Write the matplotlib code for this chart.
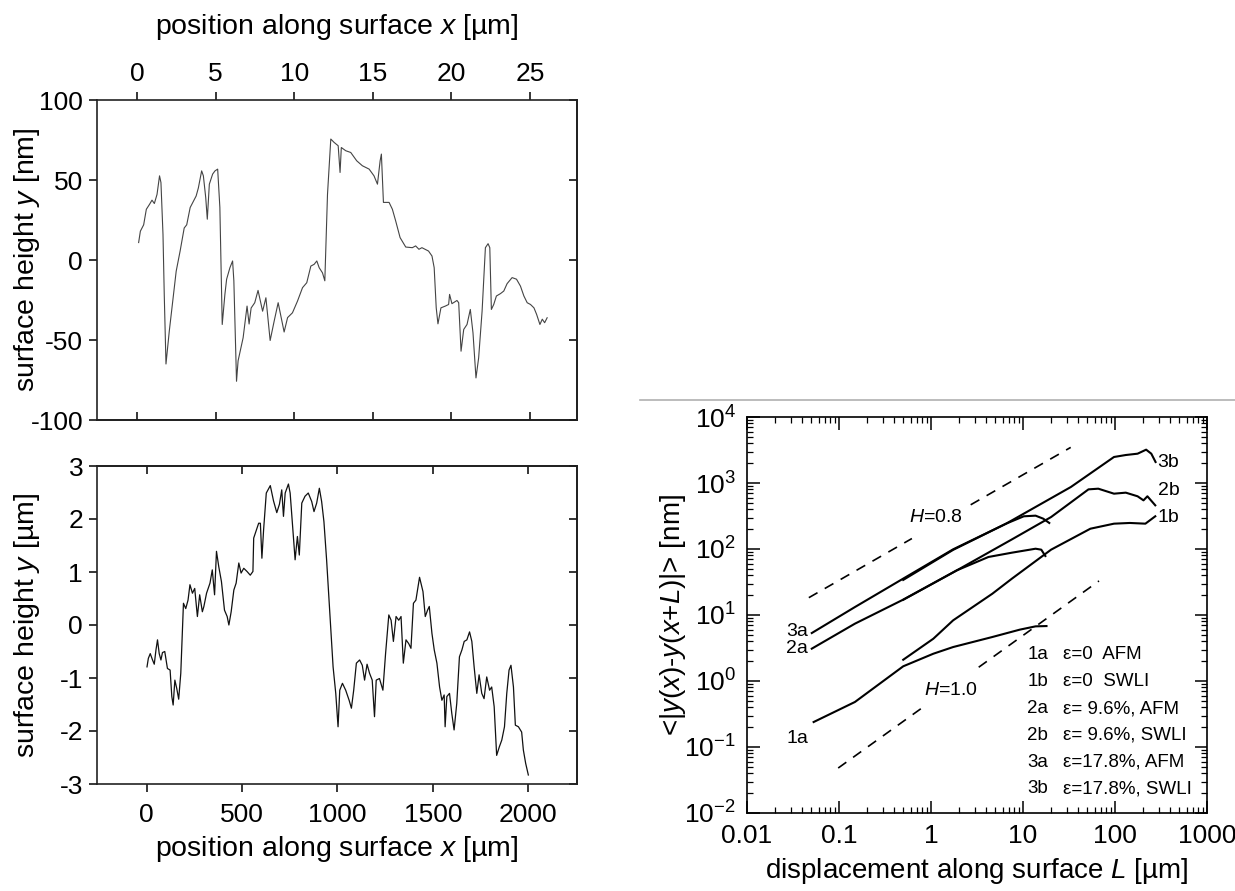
import numpy as np
import matplotlib.pyplot as plt
from matplotlib.ticker import LogLocator, FuncFormatter, NullFormatter
from matplotlib.lines import Line2D

plt.rcParams['font.family'] = ['Liberation Sans', 'DejaVu Sans']
plt.rcParams['mathtext.fontset'] = 'custom'
plt.rcParams['mathtext.rm'] = 'Liberation Sans'
plt.rcParams['mathtext.it'] = 'Liberation Sans:italic'
plt.rcParams['axes.unicode_minus'] = False

# AFM profile (top left), x in um, y in nm
x_afm = [0.10, 0.21, 0.42, 0.59, 0.80, 0.95, 1.10, 1.27, 1.43, 1.52,
         1.65, 1.73, 1.84, 1.94, 2.05, 2.22, 2.49, 2.74, 3.00, 3.16,
         3.38, 3.76, 3.90, 4.11, 4.22, 4.37, 4.47, 4.60, 4.81, 4.96,
         5.13, 5.27, 5.42, 5.59, 5.70, 5.91, 6.08, 6.16, 6.33, 6.43,
         6.75, 7.00, 7.13, 7.26, 7.49, 7.70, 7.99, 8.20, 8.47, 8.73,
         8.98, 9.15, 9.36, 9.58, 9.89, 10.21, 10.53, 10.80, 11.06, 11.27,
         11.44, 11.59, 11.80, 11.95, 12.12, 12.33, 12.54, 12.80, 12.92, 13.00,
         13.28, 13.60, 13.98, 14.34, 14.77, 15.08, 15.30, 15.47, 15.55, 15.68,
         16.04, 16.25, 16.46, 16.74, 17.10, 17.52, 17.73, 17.94, 18.13, 18.55,
         18.77, 18.91, 19.04, 19.15, 19.34, 19.62, 19.83, 19.89, 20.04, 20.36,
         20.47, 20.62, 20.79, 21.00, 21.21, 21.38, 21.57, 21.74, 21.96, 22.17,
         22.34, 22.45, 22.55, 22.70, 22.87, 23.13, 23.34, 23.55, 23.87, 24.15,
         24.40, 24.62, 24.83, 25.04, 25.26, 25.43, 25.64, 25.79, 25.94, 26.10]
y_afm = [10.9, 18.0, 22.0, 31.7, 34.9, 37.4, 35.3, 41.0, 52.6, 48.4,
         16.0, -21.5, -65.0, -55.0, -44.5, -30.0, -7.0, 5.6, 20.0, 22.0,
         32.8, 40.0, 45.0, 55.7, 52.6, 39.0, 25.5, 47.4, 53.7, 55.7,
         56.8, 32.8, -40.3, -21.5, -12.0, -4.8, -0.6, -13.0, -75.8, -63.0,
         -48.6, -28.8, -40.0, -30.0, -26.7, -19.0, -32.0, -23.6, -50.3, -38.0,
         -26.7, -35.0, -45.0, -36.0, -33.0, -25.7, -17.3, -14.2, -3.8, -2.7,
         -0.6, -4.8, -8.0, -13.0, 41.0, 75.6, 73.5, 71.4, 54.7, 70.3,
         68.3, 67.2, 62.0, 58.9, 56.8, 52.6, 47.4, 62.0, 66.2, 36.0,
         36.0, 31.7, 24.4, 14.0, 8.1, 7.7, 8.8, 6.7, 7.7, 5.6,
         2.5, -4.8, -29.9, -39.9, -29.9, -28.8, -27.8, -21.5, -27.3, -25.3,
         -26.7, -57.0, -43.4, -40.3, -30.9, -45.5, -73.7, -61.2, -31.9, 7.7,
         10.2, 7.7, -30.9, -27.8, -22.5, -21.0, -19.4, -14.8, -11.0, -12.0,
         -16.3, -22.5, -26.7, -27.8, -29.9, -34.0, -40.3, -37.0, -39.2, -36.1]

# SWLI profile (bottom left), x in um, y in um
x_swli = [2, 9, 19, 31, 40, 49, 57, 66, 75, 83,
          95, 109, 123, 132, 139, 148, 158, 168, 179, 193,
          205, 217, 227, 240, 252, 266, 278, 292, 300, 314,
          332, 344, 356, 366, 378, 392, 408, 422, 431, 443,
          457, 469, 483, 495, 509, 526, 543, 557, 561, 587,
          596, 604, 613, 627, 648, 665, 682, 696, 708, 717,
          726, 743, 752, 766, 778, 790, 800, 813, 830, 847,
          865, 877, 891, 905, 917, 929, 943, 960, 977, 991,
          1003, 1012, 1026, 1043, 1061, 1073, 1085, 1099, 1116, 1130,
          1142, 1155, 1168, 1182, 1194, 1203, 1220, 1238, 1252, 1269,
          1281, 1293, 1307, 1321, 1333, 1345, 1359, 1373, 1385, 1398,
          1411, 1430, 1448, 1460, 1472, 1481, 1495, 1507, 1521, 1535,
          1547, 1559, 1564, 1573, 1587, 1599, 1611, 1625, 1639, 1652,
          1664, 1678, 1692, 1704, 1716, 1730, 1742, 1756, 1768, 1782,
          1797, 1808, 1821, 1834, 1848, 1861, 1875, 1887, 1899, 1909,
          1922, 1932, 1948, 1965, 1974, 1986, 2000]
y_swli = [-0.79, -0.63, -0.54, -0.66, -0.74, -0.47, -0.28, -0.54, -0.66, -0.52,
          -0.50, -0.82, -0.85, -1.35, -1.51, -1.04, -1.20, -1.40, -0.91, 0.41,
          0.31, 0.47, 0.76, 0.60, 0.69, 0.16, 0.57, 0.25, 0.35, 0.60,
          0.79, 1.04, 0.57, 1.39, 1.10, 0.82, 0.28, 0.16, 0.00, 0.25,
          0.66, 0.79, 1.17, 0.98, 1.07, 1.01, 0.94, 1.01, 1.64, 1.92,
          1.92, 1.26, 1.80, 2.49, 2.63, 2.34, 2.12, 2.28, 2.55, 2.05,
          2.49, 2.66, 2.49, 1.80, 1.23, 1.67, 1.32, 2.30, 2.43, 2.49,
          2.33, 2.14, 2.30, 2.58, 2.33, 1.95, 1.23, 0.22, -0.79, -1.29,
          -1.92, -1.23, -1.10, -1.23, -1.42, -1.57, -1.23, -0.72, -0.66, -0.76,
          -1.04, -0.74, -0.91, -1.04, -1.73, -1.04, -1.01, -1.23, -0.54, 0.19,
          0.09, -0.31, 0.16, 0.09, 0.16, -0.72, -0.28, -0.35, -0.44, 0.41,
          0.47, 0.90, 0.63, 0.16, 0.28, 0.35, -0.16, -0.47, -0.72, -1.17,
          -1.42, -1.32, -1.92, -1.35, -1.29, -1.67, -1.98, -1.48, -0.60, -0.47,
          -0.31, -0.28, -0.13, -0.31, -0.79, -1.29, -0.94, -1.29, -1.39, -0.98,
          -1.23, -1.17, -1.54, -2.46, -2.30, -2.17, -1.92, -1.29, -0.85, -0.76,
          -1.17, -1.89, -1.92, -2.02, -2.36, -2.61, -2.83]

# height-difference correlation curves (right), L in um, value in nm
L_1a = [0.053, 0.149, 0.499, 1.06, 1.74, 4.64, 9.23, 13.7, 18.0]
v_1a = [0.239, 0.481, 1.67, 2.59, 3.27, 4.64, 6.0, 6.73, 6.8]
L_1b = [0.499, 1.06, 1.74, 4.64, 7.59, 20.2, 54.0, 97.5, 145, 214, 274]
v_1b = [2.1, 4.37, 8.3, 21.0, 35.6, 97.7, 203, 242, 248, 242, 313]
L_2a = [0.0506, 0.149, 0.499, 1.91, 4.21, 7.59, 13.7, 15.8, 17.5]
v_2a = [3.09, 7.39, 17.1, 47.5, 75.7, 88.0, 101, 97.7, 78.3]
L_2b = [0.499, 1.91, 7.59, 20.2, 51.5, 65.8, 97.5, 131, 176, 204, 225, 274]
v_2b = [17.0, 47.5, 140, 305, 801, 820, 689, 714, 629, 546, 629, 459]
L_3a = [0.0506, 0.149, 0.499, 1.74, 6.55, 10.2, 13.7, 16.6, 19.3]
v_3a = [5.33, 13.2, 35.6, 98.9, 242, 313, 320, 288, 248]
L_3b = [0.499, 1.74, 6.55, 33.1, 97.5, 131, 176, 218, 248, 276]
v_3b = [34.0, 97.0, 242, 869, 2478, 2655, 2781, 3200, 2781, 2080]

# dashed guide lines: exponent H, prefactor at L_ref, and the two drawn pieces
H_vals = [0.8, 1.0]
H_ref_L = [0.047, 0.098]
H_ref_v = [18.3, 0.048]
H_pieces = [[(0.047, 0.62), (2.7, 33.0)], [(0.098, 0.79), (3.3, 67.0)]]

L_ticks = [0.01, 0.1, 1, 10, 100, 1000]
v_ticks = [1e-2, 1e-1, 1e0, 1e1, 1e2, 1e3, 1e4]

legend_codes = ['1a', '1b', '2a', '2b', '3a', '3b']
legend_desc = ['\u03b5=0  AFM', '\u03b5=0  SWLI', '\u03b5= 9.6%, AFM',
               '\u03b5= 9.6%, SWLI', '\u03b5=17.8%, AFM', '\u03b5=17.8%, SWLI']

fig = plt.figure(figsize=(12.35, 8.91), dpi=100)
W, Hh = 1235.0, 891.0


def box(l, t, r, b):
    return [l / W, 1 - b / Hh, (r - l) / W, (b - t) / Hh]


fs = 19      # tick labels
fl = 20.5    # axis labels
tl = 6
tw = 1.1


def style_profile(ax, xticks, yticks, top_labels):
    for s in ax.spines.values():
        s.set_linewidth(1.2)
        s.set_color('#222222')
    ax.set_xticks(xticks)
    ax.set_yticks(yticks)
    ax.tick_params(axis='y', left=True, right=False, direction='out',
                   length=tl, width=tw, labelsize=fs, pad=4)
    if top_labels:
        ax.tick_params(axis='x', top=True, bottom=False, labeltop=True,
                       labelbottom=False, direction='out', length=tl,
                       width=tw, labelsize=fs, pad=4)
        sec = ax.secondary_xaxis('bottom')
    else:
        ax.tick_params(axis='x', top=False, bottom=True, direction='out',
                       length=tl, width=tw, labelsize=fs, pad=8)
        sec = ax.secondary_xaxis('top')
    sec.set_xticks(xticks)
    sec.xaxis.set_major_formatter(NullFormatter())
    sec.tick_params(direction='in', length=tl, width=tw)
    sec.spines[:].set_linewidth(1.2)
    secy = ax.secondary_yaxis('right')
    secy.set_yticks(yticks)
    secy.yaxis.set_major_formatter(NullFormatter())
    secy.tick_params(direction='in', length=tl, width=tw)
    secy.spines[:].set_linewidth(1.2)


# top left: AFM
ax1 = fig.add_axes(box(97, 100, 577, 420))
ax1.plot(x_afm, y_afm, color='#444444', lw=0.8)
ax1.set_xlim(-2.55, 28.0)
ax1.set_ylim(-100, 100)
style_profile(ax1, [0, 5, 10, 15, 20, 25], [-100, -50, 0, 50, 100], True)
ax1.xaxis.set_label_position('top')
ax1.set_xlabel('position along surface $x$ [\u00b5m]', fontsize=fl, va='center')
ax1.xaxis.set_label_coords(0.5, 1.228)
ax1.set_ylabel('surface height $y$ [nm]', fontsize=fl, va='center')
ax1.yaxis.set_label_coords(-0.146, 0.5)

# bottom left: SWLI
ax2 = fig.add_axes(box(97, 466, 577, 784))
ax2.plot(x_swli, y_swli, color='#111111', lw=0.9)
ax2.set_xlim(-260, 2255)
ax2.set_ylim(-3, 3)
style_profile(ax2, [0, 500, 1000, 1500, 2000], [-3, -2, -1, 0, 1, 2, 3], False)
ax2.set_xlabel('position along surface $x$ [\u00b5m]', fontsize=fl, va='center')
ax2.xaxis.set_label_coords(0.5, -0.205)
ax2.set_ylabel('surface height $y$ [\u00b5m]', fontsize=fl, va='center')
ax2.yaxis.set_label_coords(-0.146, 0.5)

# right: log-log correlation
ax3 = fig.add_axes(box(747, 417, 1207, 813))
for L, v in [(L_1a, v_1a), (L_1b, v_1b), (L_2a, v_2a),
             (L_2b, v_2b), (L_3a, v_3a), (L_3b, v_3b)]:
    ax3.plot(L, v, color='black', lw=1.5)
for h, lr, vr, pieces in zip(H_vals, H_ref_L, H_ref_v, H_pieces):
    for a, b in pieces:
        Ls = np.array([a, b])
        ax3.plot(Ls, vr * (Ls / lr) ** h, color='black', lw=1.2,
                 dashes=(6, 5))
ax3.set_xscale('log')
ax3.set_yscale('log')
ax3.set_xticks(L_ticks)
ax3.set_yticks(v_ticks)
ax3.set_xlim(0.01, 1000)
ax3.set_ylim(1e-2, 1e4)
for s in ax3.spines.values():
    s.set_linewidth(1.2)
ax3.xaxis.set_minor_locator(LogLocator(base=10, subs=np.arange(2, 10), numticks=20))
ax3.yaxis.set_minor_locator(LogLocator(base=10, subs=np.arange(2, 10), numticks=20))
ax3.xaxis.set_minor_formatter(NullFormatter())
ax3.yaxis.set_minor_formatter(NullFormatter())
ax3.xaxis.set_major_formatter(FuncFormatter(lambda v, p: '%g' % v))
ax3.tick_params(which='major', direction='in', top=True, right=True,
                length=9, width=1.1, labelsize=fs, pad=8)
ax3.tick_params(which='minor', direction='in', top=True, right=True,
                length=4.5, width=0.9)
ax3.set_xlabel('displacement along surface $L$ [\u00b5m]', fontsize=20, va='center')
ax3.xaxis.set_label_coords(0.5, -0.147)
ax3.set_ylabel('<|$y$($x$)-$y$($x$+$L$)|> [nm]', fontsize=20, va='center')
ax3.yaxis.set_label_coords(-0.161, 0.5)

lab = 14
ax3.text(0.046, 5.7, '3a', fontsize=lab, ha='right', va='center')
ax3.text(0.046, 3.1, '2a', fontsize=lab, ha='right', va='center')
ax3.text(0.046, 0.134, '1a', fontsize=lab, ha='right', va='center')
ax3.text(290, 2010, '3b', fontsize=lab, ha='left', va='center')
ax3.text(290, 774, '2b', fontsize=lab, ha='left', va='center')
ax3.text(290, 295, '1b', fontsize=lab, ha='left', va='center')
ax3.text(1.12, 305, '$H$=0.8', fontsize=lab, ha='center', va='center')
ax3.text(1.65, 0.72, '$H$=1.0', fontsize=lab, ha='center', va='center')

for i, (c, d) in enumerate(zip(legend_codes, legend_desc)):
    yy = 0.399 - i * 0.0676
    ax3.text(0.609, yy, c, transform=ax3.transAxes, fontsize=13.5, va='center')
    ax3.text(0.687, yy, d, transform=ax3.transAxes, fontsize=13.5, va='center')

# thin grey separator line above the right panel
fig.add_artist(Line2D([640 / W, 1.0], [1 - 400 / Hh, 1 - 400 / Hh],
                      color='#b0b0b0', lw=1.2))

fig.savefig('out.png', dpi=100)
